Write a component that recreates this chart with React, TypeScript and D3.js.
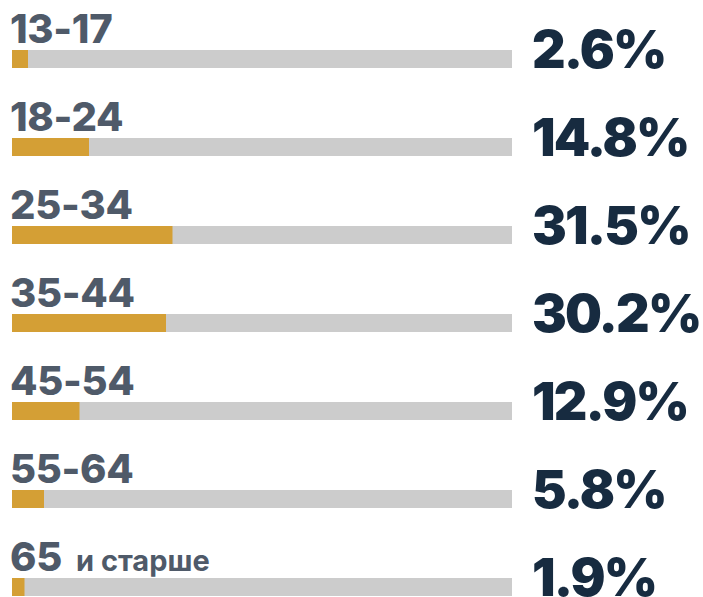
import { scaleLinear, scalePoint } from "d3";

const width = 703;
const height = 597;

// age groups and their share of the audience, %
const ageGroups = ["13-17", "18-24", "25-34", "35-44", "45-54", "55-64", "65"];
const shares = [2.6, 14.8, 31.5, 30.2, 12.9, 5.8, 1.9];
const labelSuffix = ["", "", "", "", "", "", "и старше"];

const BAR_LEFT = 12;
const BAR_RIGHT = 512;
const BAR_H = 18;

const FONT = "Inter, 'Open Sans', sans-serif";

export default function App() {
  // orange fill has a small lead-in of ~3px before the 0% mark
  const xScale = scaleLinear().domain([0, 100]).range([BAR_LEFT + 3, BAR_RIGHT + 3]);
  // top of each bar
  const yScale = scalePoint().domain(ageGroups).range([50, 578]);

  const rows = ageGroups.map((g, i) => {
    const y = yScale(g) ?? 0;
    return (
      <g key={g}>
        <text
          x={10}
          y={y - 7}
          fontFamily={FONT}
          fontWeight={800}
          fontSize={40}
          letterSpacing={-0.3}
          fill="#4f5a69"
        >
          {g}
          {labelSuffix[i] && (
            <tspan dx={14} fontSize={29} fontWeight={700} letterSpacing={0}>
              {labelSuffix[i]}
            </tspan>
          )}
        </text>
        <rect x={BAR_LEFT} y={y} width={BAR_RIGHT - BAR_LEFT} height={BAR_H} fill="#cccccc" />
        <rect x={BAR_LEFT} y={y} width={xScale(shares[i]) - BAR_LEFT} height={BAR_H} fill="#d49f35" />
        <text
          x={532}
          y={y + BAR_H}
          fontFamily={FONT}
          fontWeight={900}
          fontSize={52}
          letterSpacing={-1.8}
          fill="#172b40"
        >
          {shares[i].toFixed(1)}%
        </text>
      </g>
    );
  });

  return (
    <div style={{ position: "absolute", left: 0, top: 0 }}>
      <svg width={width} height={height} viewBox={`0 0 ${width} ${height}`}>
        <rect width={width} height={height} fill="#ffffff" />
        {rows}
      </svg>
    </div>
  );
}
